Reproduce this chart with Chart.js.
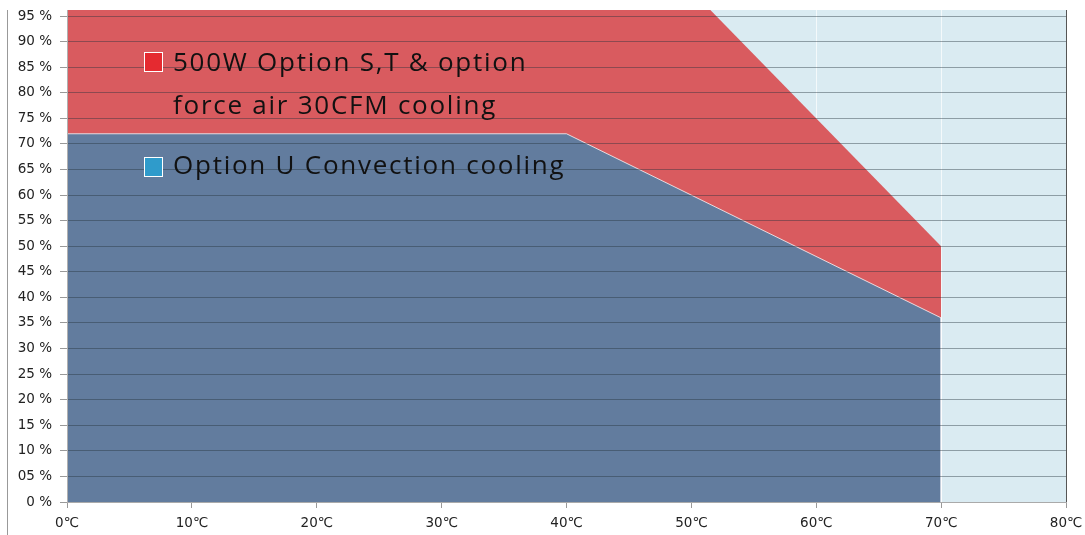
<!DOCTYPE html>
<html>
<head>
<meta charset="utf-8">
<script src="https://cdn.jsdelivr.net/npm/chart.js@4"></script>
<style>
    body { margin: 0; background: #fff; }
    #wrap { position: relative; width: 1085px; height: 535px; overflow: hidden; }
    #edge { position: absolute; left: 7px; top: 10px; height: 525px; border-left: 1px solid #999; }
    .legend { position: absolute; left: 144px; font-family: "Open Sans", sans-serif; font-size: 26px; line-height: 43px; letter-spacing: 1.75px; color: #111; }
    .legend .box { position: absolute; left: 0; width: 19px; height: 20px; border: 1px solid #fff; box-sizing: border-box; }
    .legend .txt { position: absolute; left: 29px; white-space: nowrap; }
</style>
</head>
<body>
<div id="wrap">
    <canvas id="derating" width="1085" height="535"></canvas>
    <div id="edge"></div>
    <div class="legend" style="top:40px">
        <div class="box" style="top:12px;background:#E52A30"></div>
        <div class="txt">500W Option S,T &amp; option<br>force air 30CFM cooling</div>
    </div>
    <div class="legend" style="top:143px">
        <div class="box" style="top:14px;background:#2F9BCB"></div>
        <div class="txt">Option U Convection cooling</div>
    </div>
</div>
<script>
// данные кривых снижения мощности
const forcedAirTemps = [0, 50, 70, 70];
const forcedAirLoad = [100, 100, 50, 0];
const convectionTemps = [0, 40, 70, 70];
const convectionLoad = [72, 72, 36, 0];

// подписи осей
const xTickValues = [0, 10, 20, 30, 40, 50, 60, 70, 80];
const xTickLabels = ['0℃', '10℃', '20℃', '30℃', '40℃', '50℃', '60℃', '70℃', '80℃'];
const yTickValues = [0, 5, 10, 15, 20, 25, 30, 35, 40, 45, 50, 55, 60, 65, 70, 75, 80, 85, 90, 95];
const yTickLabels = ['0 %', '05 %', '10 %', '15 %', '20 %', '25 %', '30 %', '35 %', '40 %', '45 %', '50 %',
    '55 %', '60 %', '65 %', '70 %', '75 %', '80 %', '85 %', '90 %', '95 %'];

const toPoints = (xs, ys) => xs.map((x, i) => ({ x: x, y: ys[i] }));

// фон области графика
const plotBackground = {
    id: 'plotBackground',
    beforeDraw(chart) {
        const a = chart.chartArea;
        const ctx = chart.ctx;
        ctx.save();
        ctx.fillStyle = '#DAEBF2';
        ctx.fillRect(a.left, a.top, a.right - a.left, a.bottom - a.top);
        ctx.restore();
    }
};

const tickFont = { family: '"DejaVu Sans", sans-serif', size: 13.5 };

new Chart(document.getElementById('derating'), {
    type: 'line',
    data: {
        datasets: [
            {
                label: 'Option U Convection cooling',
                data: toPoints(convectionTemps, convectionLoad),
                backgroundColor: '#627C9E',
                borderColor: 'rgba(255,255,255,0.75)',
                borderWidth: 1,
                pointRadius: 0,
                tension: 0,
                fill: 'origin',
                order: 1
            },
            {
                label: '500W Option S,T & option force air 30CFM cooling',
                data: toPoints(forcedAirTemps, forcedAirLoad),
                backgroundColor: '#D95B5F',
                borderWidth: 0,
                pointRadius: 0,
                tension: 0,
                fill: 'origin',
                order: 2
            }
        ]
    },
    options: {
        responsive: false,
        animation: false,
        layout: { padding: { left: 0, top: 10, right: 19, bottom: 0 } },
        plugins: {
            legend: { display: false },
            tooltip: { enabled: false }
        },
        scales: {
            x: {
                type: 'linear',
                min: 0,
                max: 80,
                afterBuildTicks: scale => { scale.ticks = xTickValues.map(v => ({ value: v })); },
                afterFit: scale => {
                    scale.height = 33;
                    scale.paddingLeft = 0;
                    scale.paddingRight = 0;
                },
                ticks: {
                    font: tickFont,
                    color: '#222',
                    padding: 7,
                    maxRotation: 0,
                    callback: value => xTickLabels[xTickValues.indexOf(value)]
                },
                grid: {
                    color: ctx => ctx.tick && ctx.tick.value === 80 ? '#555' : 'rgba(255,255,255,0.7)',
                    tickColor: '#999',
                    tickLength: 6
                },
                border: { color: '#aaa', z: 2 }
            },
            y: {
                min: 0,
                max: 96.2,
                afterBuildTicks: scale => { scale.ticks = yTickValues.map(v => ({ value: v })); },
                afterFit: scale => {
                    scale.width = 67;
                    scale.paddingTop = 0;
                    scale.paddingBottom = 0;
                },
                ticks: {
                    font: tickFont,
                    color: '#222',
                    padding: 8,
                    callback: value => yTickLabels[yTickValues.indexOf(value)]
                },
                grid: {
                    z: 1,
                    color: 'rgba(35,50,60,0.42)',
                    tickColor: '#999',
                    tickLength: 7
                },
                border: { color: '#b0b0b0', z: 2 }
            }
        }
    },
    plugins: [plotBackground]
});
</script>
</body>
</html>
